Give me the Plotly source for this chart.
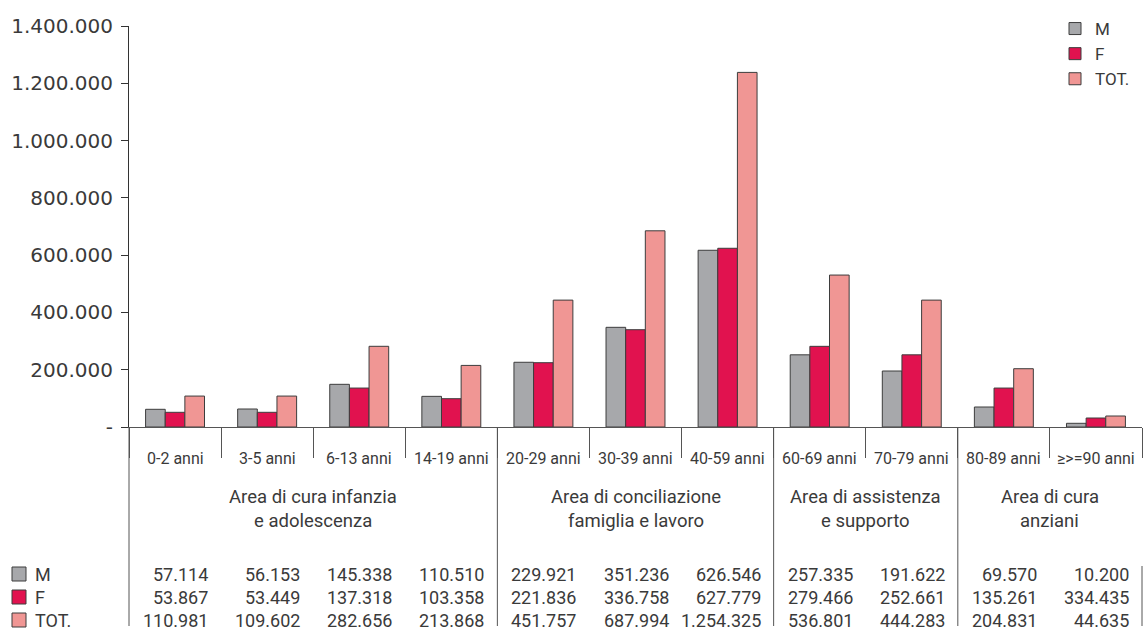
import plotly.graph_objects as go

# ---------------- data ----------------
CATEGORIES = ["0-2 anni", "3-5 anni", "6-13 anni", "14-19 anni", "20-29 anni",
              "30-39 anni", "40-59 anni", "60-69 anni", "70-79 anni",
              "80-89 anni", "≥>=90 anni"]

# bar heights as drawn in the chart
M_VALUES = [61800, 62800, 149000, 107000, 226000, 348000, 617000, 252000, 195500, 69800, 12900]
F_VALUES = [51300, 51300, 136000, 98800, 224500, 339700, 624000, 281600, 252000, 136000, 31400]
TOT_VALUES = [108000, 108000, 281700, 215000, 443000, 685000, 1238000, 530500, 443000, 203500, 38400]

# values printed in the data table (as printed)
M_TABLE = ["57.114", "56.153", "145.338", "110.510", "229.921", "351.236",
           "626.546", "257.335", "191.622", "69.570", "10.200"]
F_TABLE = ["53.867", "53.449", "137.318", "103.358", "221.836", "336.758",
           "627.779", "279.466", "252.661", "135.261", "334.435"]
TOT_TABLE = ["110.981", "109.602", "282.656", "213.868", "451.757", "687.994",
             "1.254.325", "536.801", "444.283", "204.831", "44.635"]

SERIES = ["M", "F", "TOT."]

# groups: (line 1, line 2, first category index, last category index)
GROUPS = [("Area di cura infanzia", "e adolescenza", 0, 3),
          ("Area di conciliazione", "famiglia e lavoro", 4, 6),
          ("Area di assistenza", "e supporto", 7, 8),
          ("Area di cura", "anziani", 9, 10)]

Y_TICKS = [0, 200000, 400000, 600000, 800000, 1000000, 1200000, 1400000]

# ---------------- style ----------------
COLORS = {"M": "#a7a8ab", "F": "#e1124f", "TOT.": "#f09694"}
OUTLINE = "#3d3d3d"
TEXT = "#3a3a3a"
W, H = 1146, 631
ML, MR, MT, MB = 129, 4, 26, 204
PLOT_H = H - MT - MB
PLOT_W = W - ML - MR
NCAT = len(CATEGORIES)


def py(pix):
    """pixel row -> paper y"""
    return (H - MB - pix) / PLOT_H


def px(pix):
    """pixel column -> paper x"""
    return (pix - ML) / PLOT_W


def bx(b):
    """category boundary (index-0.5 based) -> paper x"""
    return (b + 0.5) / NCAT


def fmt(v):
    return "-" if v == 0 else f"{v:,}".replace(",", ".")


fig = go.Figure()
for name, vals in zip(SERIES, [M_VALUES, F_VALUES, TOT_VALUES]):
    fig.add_trace(go.Bar(
        x=CATEGORIES, y=vals, name=name,
        marker=dict(color=COLORS[name], line=dict(color=OUTLINE, width=1)),
    ))

annotations = []
shapes = []

# age labels
for i, c in enumerate(CATEGORIES):
    annotations.append(dict(x=i, y=py(458), xref="x", yref="paper", text=c,
                            showarrow=False, xanchor="center", yanchor="middle",
                            font=dict(family="Roboto", size=16, color=TEXT)))

# group labels
for l1, l2, a, b in GROUPS:
    cx = (a + b) / 2
    annotations.append(dict(x=cx, y=py(497), xref="x", yref="paper", text=l1,
                            showarrow=False, xanchor="center", yanchor="middle",
                            font=dict(family="Roboto", size=18.5, color=TEXT)))
    annotations.append(dict(x=cx, y=py(521), xref="x", yref="paper", text=l2,
                            showarrow=False, xanchor="center", yanchor="middle",
                            font=dict(family="Roboto", size=18.5, color=TEXT)))

# table values
row_y = [574, 597, 620]
for r, (name, row) in enumerate(zip(SERIES, [M_TABLE, F_TABLE, TOT_TABLE])):
    for i, t in enumerate(row):
        annotations.append(dict(x=i + 0.5, y=py(row_y[r]), xref="x", yref="paper",
                                text=t, showarrow=False, xanchor="right",
                                yanchor="middle", xshift=-11,
                                font=dict(family="Roboto", size=18, color=TEXT)))
    # table legend
    shapes.append(dict(type="rect", xref="paper", yref="paper",
                       x0=px(12), x1=px(26), y0=py(row_y[r] - 7), y1=py(row_y[r] + 7),
                       fillcolor=COLORS[name], line=dict(color=OUTLINE, width=1)))
    annotations.append(dict(x=px(33), y=py(row_y[r]), xref="paper", yref="paper",
                            text=name, showarrow=False, xanchor="left", yanchor="middle",
                            font=dict(family="Roboto", size=18, color=TEXT)))

# long group divider lines
for b in [0, 4, 7, 9]:
    shapes.append(dict(type="line", xref="paper", yref="paper",
                       x0=bx(b - 0.5), x1=bx(b - 0.5), y0=py(427), y1=py(626),
                       line=dict(color="#555555", width=1)))
shapes.append(dict(type="line", xref="paper", yref="paper",
                   x0=bx(NCAT - 0.5), x1=bx(NCAT - 0.5), y0=py(566), y1=py(626),
                   line=dict(color="#555555", width=1)))

fig.update_layout(
    width=W, height=H,
    margin=dict(l=ML, r=MR, t=MT, b=MB, pad=0),
    paper_bgcolor="white", plot_bgcolor="white",
    barmode="group", bargap=0.36, bargroupgap=0,
    showlegend=True,
    legend=dict(x=px(1055), y=py(11), xanchor="left", yanchor="top",
                font=dict(family="Roboto", size=17, color=TEXT),
                bgcolor="rgba(0,0,0,0)", tracegroupgap=0, itemwidth=30),
    annotations=annotations, shapes=shapes,
    font=dict(family="Roboto", color=TEXT),
)

fig.update_xaxes(
    type="category", range=[-0.5, NCAT - 0.5],
    showticklabels=False, tickson="boundaries", ticks="outside", ticklen=30,
    tickcolor="#555555", tickwidth=1,
    showline=True, linecolor="#555555", linewidth=1,
    showgrid=False, zeroline=False,
)
fig.update_yaxes(
    range=[0, 1400000], tickvals=Y_TICKS, ticktext=[fmt(v) for v in Y_TICKS],
    ticks="outside", ticklen=7, tickcolor="#333333", tickwidth=1,
    showline=True, linecolor="#333333", linewidth=1,
    showgrid=False, zeroline=False, ticklabelstandoff=4,
    tickfont=dict(family="DejaVu Sans", size=20, color=TEXT),
)

fig.write_html("out.html", config={"displayModeBar": False},
               post_script="document.body.style.margin='0';document.body.style.overflow='hidden';")
